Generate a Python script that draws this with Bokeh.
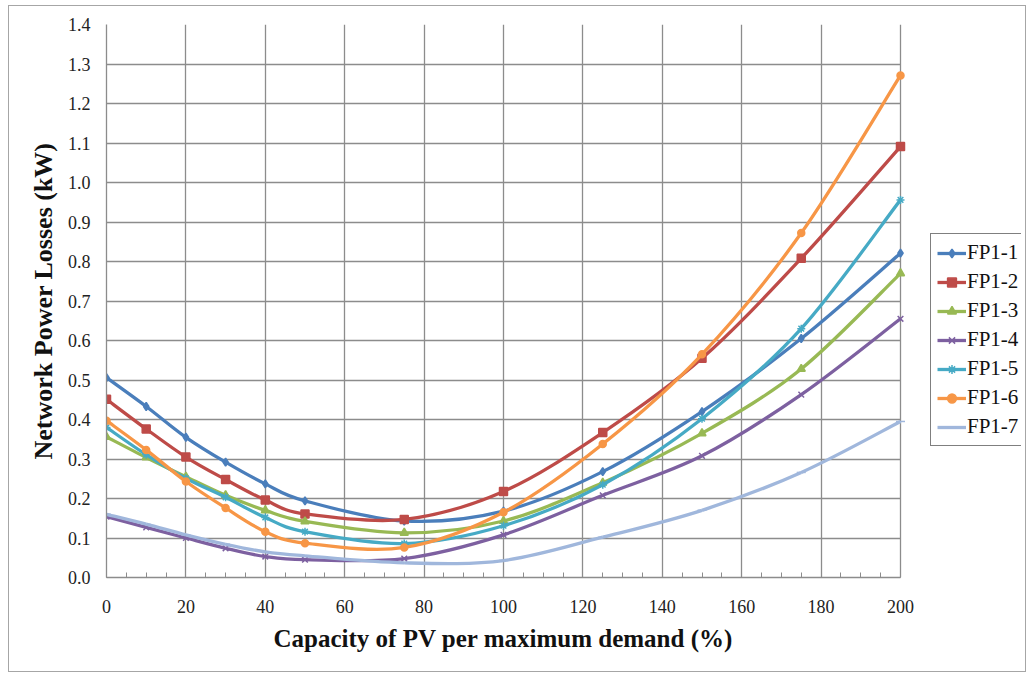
from bokeh.plotting import figure
from bokeh.models import (Legend, LegendItem, SingleIntervalTicker, FixedTicker, Range1d,
                          CustomJSTickFormatter, Title)
from bokeh.embed import file_html
from bokeh.resources import INLINE

# ---- data ----
capacity = [0, 10, 20, 30, 40, 50, 75, 100, 125, 150, 175, 200]
fp1_1 = [0.506, 0.433, 0.355, 0.292, 0.237, 0.194, 0.143, 0.168, 0.268, 0.420, 0.605, 0.821]
fp1_2 = [0.451, 0.376, 0.305, 0.248, 0.196, 0.161, 0.147, 0.218, 0.367, 0.555, 0.808, 1.091]
fp1_3 = [0.356, 0.304, 0.255, 0.208, 0.170, 0.142, 0.113, 0.143, 0.240, 0.365, 0.528, 0.770]
fp1_4 = [0.154, 0.127, 0.100, 0.074, 0.053, 0.045, 0.048, 0.108, 0.208, 0.308, 0.463, 0.655]
fp1_5 = [0.380, 0.311, 0.251, 0.203, 0.152, 0.116, 0.086, 0.131, 0.235, 0.402, 0.630, 0.956]
fp1_6 = [0.397, 0.323, 0.243, 0.176, 0.116, 0.087, 0.076, 0.165, 0.338, 0.565, 0.872, 1.271]
fp1_7 = [0.160, 0.135, 0.108, 0.084, 0.065, 0.055, 0.037, 0.043, 0.102, 0.170, 0.266, 0.395]
series_names = ["FP1-1", "FP1-2", "FP1-3", "FP1-4", "FP1-5", "FP1-6", "FP1-7"]
series_values = [fp1_1, fp1_2, fp1_3, fp1_4, fp1_5, fp1_6, fp1_7]
x_ticks = [0, 20, 40, 60, 80, 100, 120, 140, 160, 180, 200]
y_ticks = [0.0, 0.1, 0.2, 0.3, 0.4, 0.5, 0.6, 0.7, 0.8, 0.9, 1.0, 1.1, 1.2, 1.3, 1.4]
x_title = "Capacity of PV per maximum demand (%)"
y_title = "Network Power Losses (kW)"

colors = ["#4A7EBB", "#BE4B48", "#98B954", "#7D60A0", "#46AAC5", "#F79646", "#A0B7DC"]
markers = ["diamond", "square", "triangle", "x", "asterisk", "circle", "dash"]
msizes = [8, 8, 8, 8, 8, 7, 9]

SERIF = "Liberation Serif"
GRID = "#8c8c8c"

# frame is widened to the right so the legend (outside the data area) is not clipped
X_MAX = 200 * 915 / 794.0

p = figure(width=1018, height=667, output_backend="svg", toolbar_location=None,
           x_range=Range1d(0, X_MAX), y_range=Range1d(0, 1.4),
           min_border_left=97, min_border_right=6, min_border_top=18, min_border_bottom=96)
p.styles = {"border": "1px solid #a6a6a6", "box-sizing": "border-box",
            "margin-left": "8px", "margin-top": "5px"}

p.outline_line_color = None
p.xgrid.ticker = FixedTicker(ticks=x_ticks)
p.ygrid.ticker = FixedTicker(ticks=y_ticks)
p.ygrid.cross_bounds = (0, 200)
for g in (p.xgrid, p.ygrid):
    g.grid_line_color = GRID
    g.grid_line_width = 1.3

xa = p.xaxis[0]
xa.ticker = SingleIntervalTicker(interval=20, num_minor_ticks=4)
xa.bounds = (0, 200)
xa.major_tick_in = 5
xa.major_tick_out = 0
xa.minor_tick_in = 5
xa.minor_tick_out = 0
xa.major_tick_line_color = GRID
xa.minor_tick_line_color = GRID
xa.axis_line_color = GRID
xa.axis_line_width = 1.3
xa.major_label_standoff = 22

ya = p.yaxis[0]
ya.ticker = FixedTicker(ticks=y_ticks)
ya.axis_label = y_title
ya.major_tick_in = 0
ya.major_tick_out = 0
ya.minor_tick_line_color = None
ya.axis_line_color = GRID
ya.axis_line_width = 1.3
ya.major_label_standoff = 16
ya.axis_label_standoff = 7
ya.formatter = CustomJSTickFormatter(code="return tick.toFixed(1);")
ya.axis_label_text_font = SERIF
ya.axis_label_text_font_size = "26px"
ya.axis_label_text_font_style = "bold"
ya.axis_label_text_color = "#111111"

for ax in (xa, ya):
    ax.major_label_text_font = SERIF
    ax.major_label_text_font_size = "18px"
    ax.major_label_text_color = "#222222"

# x-axis title centred under the data area (0..200)
xt = Title(text=x_title, align="left", offset=167, standoff=15, vertical_align="bottom",
           text_font=SERIF, text_font_size="25px", text_font_style="bold",
           text_color="#111111", text_line_height=1.5)
p.add_layout(xt, "below")


def smooth_segments(xs, ys):
    # Bezier control points (Excel-style smoothing) built from the data points
    n = len(xs)
    out = {k: [] for k in ("x0", "y0", "x1", "y1", "cx0", "cy0", "cx1", "cy1")}
    for i in range(n - 1):
        xm, ym = (xs[i - 1], ys[i - 1]) if i > 0 else (xs[i], ys[i])
        xp2, yp2 = (xs[i + 2], ys[i + 2]) if i + 2 < n else (xs[i + 1], ys[i + 1])
        out["x0"].append(xs[i]); out["y0"].append(ys[i])
        out["x1"].append(xs[i + 1]); out["y1"].append(ys[i + 1])
        out["cx0"].append(xs[i] + (xs[i + 1] - xm) / 6.0)
        out["cy0"].append(ys[i] + (ys[i + 1] - ym) / 6.0)
        out["cx1"].append(xs[i + 1] - (xp2 - xs[i]) / 6.0)
        out["cy1"].append(ys[i + 1] - (yp2 - ys[i]) / 6.0)
    return out


items = []
for name, vals, c, m, ms in zip(series_names, series_values, colors, markers, msizes):
    seg = smooth_segments(capacity, vals)
    r_line = p.bezier(source=seg, x0="x0", y0="y0", x1="x1", y1="y1",
                      cx0="cx0", cy0="cy0", cx1="cx1", cy1="cy1",
                      line_color=c, line_width=3.3)
    r_pts = p.scatter(capacity, vals, marker=m, size=ms, fill_color=c, line_color=c, line_width=1.5)
    items.append(LegendItem(label=name, renderers=[r_line, r_pts]))

legend = Legend(items=items, location=(824, 131))
legend.label_text_font = SERIF
legend.label_text_font_size = "21px"
legend.label_text_color = "#111111"
legend.border_line_color = "#000000"
legend.border_line_width = 1
legend.background_fill_color = "white"
legend.background_fill_alpha = 1
legend.glyph_width = 29
legend.glyph_height = 22
legend.label_height = 22
legend.label_standoff = 1
legend.spacing = 4
legend.padding = 6
legend.margin = 0
p.add_layout(legend, "center")

open("out.html", "w").write(file_html(p, INLINE))
